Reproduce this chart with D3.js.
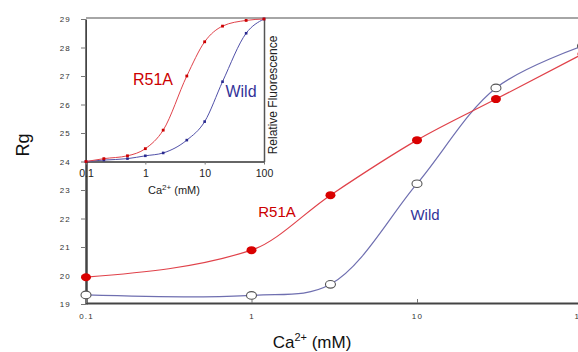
<!DOCTYPE html>
<html>
<head>
<meta charset="utf-8">
<script src="https://cdn.jsdelivr.net/npm/d3@7"></script>
<style>
  body { margin: 0; background: #fff; }
  svg { font-family: Arial, "Liberation Sans", sans-serif; }
</style>
</head>
<body>
<div id="chart"></div>
<script>
// main chart: Rg vs Ca2+ (mM)
const concMain = [0.1, 1, 3, 10, 30, 100];
const rgWild = [19.32, 19.3, 19.69, 23.22, 26.58, 28.05];
const rgR51A = [19.94, 20.89, 22.82, 24.75, 26.19, 27.77];
const yTicks = [19, 20, 21, 22, 23, 24, 25, 26, 27, 28, 29];
const xTicks = [0.1, 1, 10, 100];
const xTickLabels = ["0.1", "1", "10", "100"];

// inset: relative fluorescence
const concInset = [0.1, 0.2, 0.5, 1, 2, 5, 10, 20, 50, 100];
const fluoR51A = [0, 0.02, 0.04, 0.09, 0.22, 0.6, 0.84, 0.95, 0.99, 1.0];
const fluoWild = [0, 0.01, 0.02, 0.04, 0.06, 0.15, 0.28, 0.56, 0.9, 1.0];

const W = 578, H = 352;
const red = "#d90000", redLine = "#e0424a";
const blue = "#333399", blueLine = "#6f6fb0";

const svg = d3.select("#chart").append("svg")
  .attr("width", W).attr("height", H);

const x = d3.scaleLog().domain([0.1, 100]).range([86, 582.5]);
const y = d3.scaleLinear().domain([19, 29]).range([304, 19]);

// top border
svg.append("line")
  .attr("x1", 86).attr("x2", W).attr("y1", 18).attr("y2", 18)
  .attr("stroke", "#888").attr("stroke-width", 1.5);

// y axis
const yAxis = svg.append("g")
  .attr("transform", "translate(86,0)")
  .call(d3.axisLeft(y).tickValues(yTicks).tickSize(5).tickSizeOuter(0).tickPadding(10));
yAxis.select(".domain").attr("stroke", "#444").attr("stroke-width", 2.5);
yAxis.selectAll(".tick line").attr("stroke", "#777");
yAxis.selectAll("text").attr("font-size", 8).attr("fill", "#333").attr("letter-spacing", 1.2);

// x axis
const xAxis = svg.append("g")
  .attr("transform", "translate(0,303)")
  .call(d3.axisBottom(x).tickValues(xTicks).tickFormat((d, i) => xTickLabels[i])
    .tickSize(-4).tickSizeOuter(0).tickPadding(10));
xAxis.select(".domain").attr("stroke", "#444").attr("stroke-width", 2);
xAxis.selectAll(".tick line").attr("stroke", "#777");
xAxis.selectAll("text").attr("font-size", 8).attr("fill", "#333").attr("letter-spacing", 1.2);

// axis titles
svg.append("text")
  .attr("transform", "translate(29,145) rotate(-90)")
  .attr("text-anchor", "middle")
  .attr("font-size", 18).attr("fill", "#111")
  .text("Rg");

const xt = svg.append("text")
  .attr("x", 312).attr("y", 348)
  .attr("text-anchor", "middle")
  .attr("font-size", 17).attr("fill", "#111");
xt.append("tspan").text("Ca");
xt.append("tspan").attr("dy", -7).attr("font-size", 11).text("2+");
xt.append("tspan").attr("dy", 7).text(" (mM)");

// main lines
const lineMain = d3.line()
  .x((d, i) => x(concMain[i]))
  .y(d => y(d));

svg.append("path").datum(rgWild)
  .attr("d", lineMain.curve(d3.curveCatmullRom.alpha(0.5))).attr("fill", "none")
  .attr("stroke", blueLine).attr("stroke-width", 1.2);
svg.append("path").datum(rgR51A)
  .attr("d", lineMain.curve(d3.curveMonotoneX)).attr("fill", "none")
  .attr("stroke", redLine).attr("stroke-width", 1.2);

svg.selectAll(".wildpt").data(rgWild).enter().append("ellipse")
  .attr("cx", (d, i) => x(concMain[i])).attr("cy", d => y(d))
  .attr("rx", 5).attr("ry", 3.8)
  .attr("fill", "#fff").attr("stroke", "#555").attr("stroke-width", 1.1);
svg.selectAll(".r51pt").data(rgR51A).enter().append("ellipse")
  .attr("cx", (d, i) => x(concMain[i])).attr("cy", d => y(d))
  .attr("rx", 5).attr("ry", 4)
  .attr("fill", red);

svg.append("text").attr("x", 277).attr("y", 217)
  .attr("text-anchor", "middle").attr("font-size", 15).attr("fill", "#cc0000")
  .text("R51A");
svg.append("text").attr("x", 425).attr("y", 220)
  .attr("text-anchor", "middle").attr("font-size", 15).attr("fill", blue)
  .text("Wild");

// inset
const xi = d3.scaleLog().domain([0.1, 100]).range([86, 264]);
const yi = d3.scaleLinear().domain([0, 1]).range([161.5, 19]);

svg.append("rect").attr("x", 87).attr("y", 19).attr("width", 177).attr("height", 142.5)
  .attr("fill", "#fff");

const ixAxis = svg.append("g")
  .attr("transform", "translate(0,161.5)")
  .call(d3.axisBottom(xi).tickValues(xTicks).tickFormat((d, i) => xTickLabels[i])
    .tickSize(3).tickSizeOuter(0).tickPadding(5));
ixAxis.select(".domain").attr("stroke", "#333").attr("stroke-width", 1.5);
ixAxis.selectAll(".tick line").attr("stroke", "#777");
ixAxis.selectAll("text").attr("font-size", 10.5).attr("fill", "#222");

const iyAxis = svg.append("g")
  .attr("transform", "translate(264,0)")
  .call(d3.axisRight(yi).tickValues([]).tickSizeOuter(0));
iyAxis.select(".domain").attr("stroke", "#555").attr("stroke-width", 1.5);

const it = svg.append("text")
  .attr("x", 174).attr("y", 194)
  .attr("text-anchor", "middle")
  .attr("font-size", 11).attr("fill", "#222");
it.append("tspan").text("Ca");
it.append("tspan").attr("dy", -4).attr("font-size", 8).text("2+");
it.append("tspan").attr("dy", 4).text(" (mM)");

svg.append("text")
  .attr("transform", "translate(277,95) rotate(-90)")
  .attr("text-anchor", "middle")
  .attr("font-size", 12).attr("fill", "#222")
  .text("Relative Fluorescence");

const lineInset = d3.line()
  .x((d, i) => xi(concInset[i]))
  .y(d => yi(d))
  .curve(d3.curveMonotoneX);

svg.append("path").datum(fluoWild)
  .attr("d", lineInset).attr("fill", "none")
  .attr("stroke", "#5050a8").attr("stroke-width", 1);
svg.append("path").datum(fluoR51A)
  .attr("d", lineInset).attr("fill", "none")
  .attr("stroke", redLine).attr("stroke-width", 1);

svg.selectAll(".iw").data(fluoWild).enter().append("rect")
  .attr("x", (d, i) => xi(concInset[i]) - 1.3).attr("y", d => yi(d) - 1.3)
  .attr("width", 2.6).attr("height", 2.6).attr("fill", "#2a2a90");
svg.selectAll(".ir").data(fluoR51A).enter().append("rect")
  .attr("x", (d, i) => xi(concInset[i]) - 1.4).attr("y", d => yi(d) - 1.4)
  .attr("width", 2.8).attr("height", 2.8).attr("fill", "#cc0000");

svg.append("text").attr("x", 153).attr("y", 85)
  .attr("text-anchor", "middle").attr("font-size", 16).attr("fill", "#cc0000")
  .text("R51A");
svg.append("text").attr("x", 241).attr("y", 97)
  .attr("text-anchor", "middle").attr("font-size", 16).attr("fill", blue)
  .text("Wild");
</script>
</body>
</html>
